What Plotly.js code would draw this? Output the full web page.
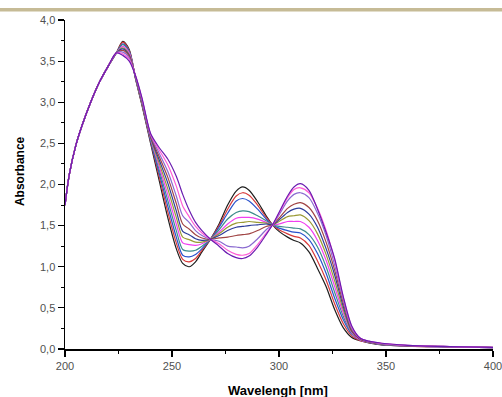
<!DOCTYPE html>
<html>
<head>
<meta charset="utf-8">
<script src="https://cdn.plot.ly/plotly-3.0.1.min.js"></script>
<style>html,body{margin:0;padding:0;background:#fff;overflow:hidden;}#chart{width:502px;height:397px;}</style>
</head>
<body>
<div id="chart"></div>
<script>
// Wavelengths (nm)
const riseWavelengths = [200, 202, 205, 208, 212, 216, 220, 224];
const wavelengths = [227, 230, 233, 236, 240, 244, 248, 252, 255, 258, 261, 264, 268, 272, 276, 280, 283, 286, 290, 294, 297, 300, 304, 307, 310, 314, 318, 322, 326, 330, 334, 338, 342, 348, 360, 380, 400];
// Shared rising edge (all spectra overlap here)
const riseAbs = [1.75, 2.12, 2.47, 2.72, 3.00, 3.24, 3.43, 3.60];

const s0  = [3.74, 3.64, 3.28, 2.96, 2.50, 2.05, 1.60, 1.22, 1.04, 1.00, 1.06, 1.18, 1.335, 1.52, 1.75, 1.92, 1.97, 1.93, 1.79, 1.62, 1.51, 1.43, 1.36, 1.32, 1.29, 1.18, 0.98, 0.76, 0.48, 0.26, 0.14, 0.10, 0.075, 0.050, 0.035, 0.025, 0.015];
const s1  = [3.73, 3.63, 3.28, 2.97, 2.52, 2.10, 1.67, 1.29, 1.09, 1.06, 1.10, 1.20, 1.335, 1.50, 1.70, 1.86, 1.90, 1.87, 1.75, 1.60, 1.51, 1.45, 1.40, 1.37, 1.35, 1.26, 1.07, 0.84, 0.55, 0.31, 0.16, 0.10, 0.078, 0.052, 0.036, 0.026, 0.016];
const s2  = [3.71, 3.62, 3.29, 2.98, 2.53, 2.14, 1.74, 1.36, 1.14, 1.12, 1.15, 1.22, 1.335, 1.48, 1.65, 1.80, 1.83, 1.80, 1.70, 1.58, 1.51, 1.47, 1.44, 1.42, 1.41, 1.33, 1.16, 0.92, 0.62, 0.36, 0.18, 0.11, 0.080, 0.054, 0.037, 0.026, 0.016];
const s3  = [3.70, 3.61, 3.29, 2.99, 2.55, 2.18, 1.81, 1.44, 1.21, 1.19, 1.20, 1.25, 1.335, 1.45, 1.58, 1.66, 1.68, 1.67, 1.62, 1.56, 1.51, 1.49, 1.48, 1.47, 1.46, 1.39, 1.24, 1.00, 0.69, 0.40, 0.19, 0.11, 0.082, 0.056, 0.038, 0.027, 0.017];
const s4  = [3.68, 3.60, 3.30, 3.00, 2.56, 2.22, 1.88, 1.52, 1.29, 1.27, 1.26, 1.28, 1.335, 1.42, 1.52, 1.59, 1.60, 1.60, 1.58, 1.54, 1.51, 1.52, 1.55, 1.55, 1.55, 1.48, 1.32, 1.08, 0.76, 0.44, 0.20, 0.11, 0.084, 0.058, 0.039, 0.027, 0.017];
const s5  = [3.66, 3.58, 3.30, 3.00, 2.57, 2.26, 1.95, 1.60, 1.36, 1.33, 1.30, 1.30, 1.335, 1.40, 1.48, 1.53, 1.54, 1.55, 1.54, 1.53, 1.51, 1.55, 1.61, 1.62, 1.63, 1.56, 1.40, 1.15, 0.83, 0.48, 0.21, 0.12, 0.086, 0.060, 0.040, 0.028, 0.018];
const s6  = [3.65, 3.57, 3.30, 3.01, 2.58, 2.30, 2.02, 1.68, 1.43, 1.39, 1.34, 1.32, 1.335, 1.38, 1.44, 1.48, 1.49, 1.50, 1.51, 1.52, 1.51, 1.57, 1.66, 1.70, 1.71, 1.64, 1.48, 1.22, 0.90, 0.52, 0.22, 0.12, 0.088, 0.062, 0.041, 0.028, 0.018];
const s7  = [3.63, 3.56, 3.31, 3.02, 2.59, 2.34, 2.09, 1.77, 1.52, 1.46, 1.39, 1.35, 1.335, 1.35, 1.36, 1.38, 1.39, 1.40, 1.44, 1.49, 1.51, 1.59, 1.71, 1.76, 1.78, 1.72, 1.56, 1.30, 0.96, 0.56, 0.23, 0.12, 0.090, 0.064, 0.042, 0.029, 0.019];
const s8  = [3.61, 3.54, 3.31, 3.03, 2.60, 2.38, 2.16, 1.86, 1.62, 1.54, 1.44, 1.38, 1.335, 1.31, 1.25, 1.24, 1.23, 1.25, 1.34, 1.45, 1.51, 1.63, 1.80, 1.88, 1.90, 1.84, 1.65, 1.38, 1.02, 0.60, 0.25, 0.13, 0.092, 0.066, 0.043, 0.029, 0.019];
const s9  = [3.59, 3.52, 3.32, 3.04, 2.61, 2.42, 2.24, 1.98, 1.74, 1.61, 1.49, 1.41, 1.335, 1.28, 1.20, 1.15, 1.14, 1.16, 1.27, 1.41, 1.51, 1.65, 1.84, 1.94, 1.96, 1.90, 1.71, 1.44, 1.08, 0.63, 0.27, 0.13, 0.094, 0.068, 0.044, 0.030, 0.020];
const s10 = [3.57, 3.50, 3.32, 3.05, 2.62, 2.45, 2.31, 2.10, 1.88, 1.69, 1.54, 1.44, 1.335, 1.25, 1.16, 1.11, 1.10, 1.13, 1.24, 1.39, 1.51, 1.66, 1.86, 1.97, 2.01, 1.93, 1.70, 1.42, 1.10, 0.64, 0.28, 0.13, 0.095, 0.070, 0.045, 0.030, 0.020];

const series = [s0, s1, s2, s3, s4, s5, s6, s7, s8, s9, s10];
const colors = ['#1e1e1e', '#d83a3a', '#2a52cc', '#3d8c8c', '#f040f0', '#9a9a34', '#2c3c9a', '#a04444', '#8a6ad0', '#ff5cd6', '#6a1cb0'];

const xTickVals = [200, 250, 300, 350, 400];

const traces = series.map((s, i) => ({
  x: riseWavelengths.concat(wavelengths),
  y: riseAbs.concat(s),
  type: 'scatter',
  mode: 'lines',
  line: {color: colors[i], width: 1.2, shape: 'spline', smoothing: 0.8},
  showlegend: false,
  hoverinfo: 'skip'
}));

const layout = {
  width: 502, height: 397,
  margin: {l: 65, r: 9, t: 20, b: 48, pad: 0},
  paper_bgcolor: '#ffffff', plot_bgcolor: '#ffffff',
  separators: ',.',
  font: {family: 'Liberation Sans, Arial, sans-serif', size: 11, color: '#505050'},
  xaxis: {
    range: [200, 400], tickvals: xTickVals, ticks: 'outside', ticklen: 6, tickwidth: 1.2, tickcolor: '#000',
    minor: {ticks: 'outside', ticklen: 3, dtick: 25, tickcolor: '#000', tickwidth: 1},
    showline: true, linecolor: '#000', linewidth: 1.5, showgrid: false, zeroline: false,
    ticklabeloverflow: 'allow', automargin: false,
    tickfont: {size: 11, color: '#505050'}, fixedrange: true
  },
  yaxis: {
    range: [0, 4], dtick: 0.5, tick0: 0, tickformat: '.1f', ticks: 'outside', ticklen: 6, tickwidth: 1.2, tickcolor: '#000',
    minor: {ticks: 'outside', ticklen: 3, dtick: 0.25, tickcolor: '#000', tickwidth: 1},
    showline: true, linecolor: '#000', linewidth: 1.5, showgrid: false, zeroline: false,
    ticklabeloverflow: 'allow', automargin: false,
    tickfont: {size: 11, color: '#505050'}, fixedrange: true
  },
  annotations: [
    {text: '<b>Absorbance</b>', textangle: -90, xref: 'paper', yref: 'paper', x: -0.105, y: 0.541,
     xanchor: 'center', yanchor: 'middle', showarrow: false, font: {size: 12, color: '#000'}},
    {text: '<b>Wavelengh [nm]</b>', xref: 'paper', yref: 'paper', x: 0.497, y: -0.125,
     xanchor: 'center', yanchor: 'middle', showarrow: false, font: {size: 13, color: '#000'}}
  ],
  shapes: [
    {type: 'rect', xref: 'paper', yref: 'paper', x0: -0.16, x1: 1.03, y0: 1.0258, y1: 1.0365,
     fillcolor: '#c6bb96', line: {width: 0}, layer: 'above'}
  ]
};

Plotly.newPlot('chart', traces, layout, {staticPlot: true, displayModeBar: false});
</script>
</body>
</html>
